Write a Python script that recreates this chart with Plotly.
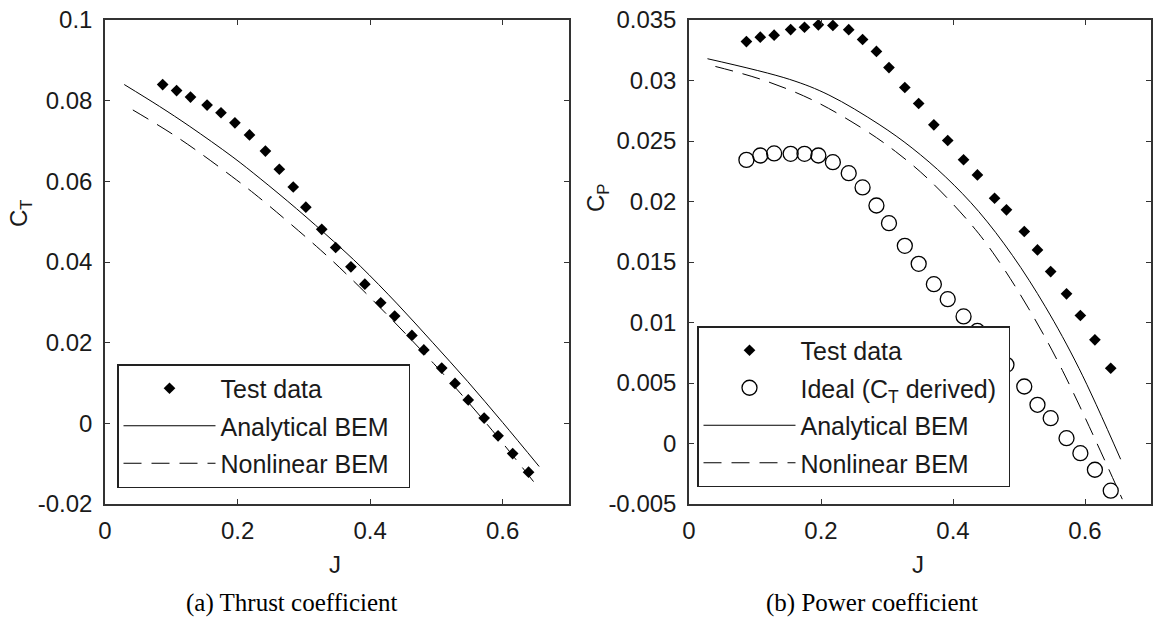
import plotly.graph_objects as go

# ---------------- data ----------------
J_test = [0.087, 0.108, 0.129, 0.154, 0.175, 0.196, 0.218, 0.242, 0.263, 0.284, 0.303, 0.327, 0.348,
          0.371, 0.392, 0.416, 0.437, 0.463, 0.481, 0.508, 0.528, 0.548, 0.572, 0.593, 0.615, 0.639]
CT_test = [0.0840, 0.0825, 0.0809, 0.0789, 0.0770, 0.0745, 0.0715, 0.0675, 0.0630, 0.0586, 0.0536, 0.0481, 0.0436,
           0.0388, 0.0345, 0.0299, 0.0266, 0.0218, 0.0182, 0.0137, 0.0099, 0.0058, 0.0013, -0.0031, -0.0075, -0.0121]
CP_test = [0.03322, 0.03358, 0.03375, 0.03421, 0.0344, 0.0346, 0.03455, 0.0342, 0.03339, 0.0324, 0.03107, 0.02942, 0.0281,
           0.02634, 0.02504, 0.02345, 0.0222, 0.02027, 0.01931, 0.01752, 0.0160, 0.01421, 0.01237, 0.01058, 0.00857, 0.00622]
CP_ideal = [0.02344, 0.0238, 0.02397, 0.02394, 0.02394, 0.0238, 0.02325, 0.02234, 0.02116, 0.01967, 0.01821, 0.01634, 0.01485,
            0.01317, 0.01193, 0.0105, 0.0093, 0.0078, 0.0065, 0.00471, 0.0032, 0.00209, 0.00044, -0.0008, -0.00217, -0.0039]

J_ana_T = [0.029, 0.082, 0.128, 0.193, 0.234, 0.289, 0.345, 0.385, 0.441, 0.494, 0.547, 0.600, 0.655]
CT_ana = [0.0840, 0.0786, 0.0736, 0.0660, 0.0607, 0.0532, 0.0451, 0.0390, 0.0296, 0.0201, 0.0104, 0.0002, -0.0107]
J_non_T = [0.042, 0.113, 0.198, 0.239, 0.325, 0.368, 0.430, 0.496, 0.545, 0.592, 0.655]
CT_non = [0.0777, 0.0705, 0.0604, 0.0551, 0.0430, 0.0364, 0.0262, 0.0148, 0.0058, -0.0033, -0.0162]

J_ana_P = [0.028, 0.152, 0.212, 0.288, 0.338, 0.389, 0.439, 0.490, 0.540, 0.591, 0.654]
CP_ana = [0.0318, 0.0301, 0.0288, 0.02637, 0.02442, 0.02202, 0.01917, 0.01555, 0.0113, 0.0062, -0.0013]
J_non_P = [0.040, 0.111, 0.187, 0.263, 0.313, 0.364, 0.429, 0.465, 0.515, 0.566, 0.6565]
CP_non = [0.03116, 0.03006, 0.02839, 0.02603, 0.02413, 0.02178, 0.01801, 0.01542, 0.01112, 0.00602, -0.0046]

x_tickvals = [0, 0.2, 0.4, 0.6]
x_ticktext = ["0", "0.2", "0.4", "0.6"]
yT_tickvals = [-0.02, 0, 0.02, 0.04, 0.06, 0.08, 0.1]
yT_ticktext = ["-0.02", "0", "0.02", "0.04", "0.06", "0.08", "0.1"]
yP_tickvals = [-0.005, 0, 0.005, 0.01, 0.015, 0.02, 0.025, 0.03, 0.035]
yP_ticktext = ["-0.005", "0", "0.005", "0.01", "0.015", "0.02", "0.025", "0.03", "0.035"]

# ---------------- figure ----------------
W, H = 1154, 620
INK = "#1a1a1a"
SANS = "Liberation Sans, Arial, sans-serif"
SERIF = "Liberation Serif, Times New Roman, serif"
DASH = "18px,10px"
SMOOTH = 1.0
PAD_L = "\u00a0\u00a0"   # small right padding inside the legend boxes
PAD_R = "\u00a0"

fig = go.Figure()

# left panel
fig.add_trace(go.Scatter(x=J_test, y=CT_test, mode="markers", name="Test data",
                         marker=dict(symbol="diamond", size=9, color="black"),
                         xaxis="x", yaxis="y", legend="legend", legendgroup="a1"))
fig.add_trace(go.Scatter(x=J_ana_T, y=CT_ana, mode="lines", name="Analytical BEM" + PAD_L,
                         line=dict(color="black", width=1, shape="spline", smoothing=SMOOTH),
                         xaxis="x", yaxis="y", legend="legend", legendgroup="a2"))
fig.add_trace(go.Scatter(x=J_non_T, y=CT_non, mode="lines", name="Nonlinear BEM",
                         line=dict(color="black", width=1, dash=DASH, shape="spline", smoothing=SMOOTH),
                         xaxis="x", yaxis="y", legend="legend", legendgroup="a3"))

# right panel
fig.add_trace(go.Scatter(x=J_test, y=CP_test, mode="markers", name="Test data",
                         marker=dict(symbol="diamond", size=9, color="black"),
                         xaxis="x2", yaxis="y2", legend="legend2", legendgroup="b1"))
fig.add_trace(go.Scatter(x=J_test, y=CP_ideal, mode="markers", name="Ideal (C<sub>T</sub> derived)" + PAD_R,
                         marker=dict(symbol="circle-open", size=15, color="black", line=dict(width=1.3)),
                         xaxis="x2", yaxis="y2", legend="legend2", legendgroup="b2"))
fig.add_trace(go.Scatter(x=J_ana_P, y=CP_ana, mode="lines", name="Analytical BEM",
                         line=dict(color="black", width=1, shape="spline", smoothing=SMOOTH),
                         xaxis="x2", yaxis="y2", legend="legend2", legendgroup="b3"))
fig.add_trace(go.Scatter(x=J_non_P, y=CP_non, mode="lines", name="Nonlinear BEM",
                         line=dict(color="black", width=1, dash=DASH, shape="spline", smoothing=SMOOTH),
                         xaxis="x2", yaxis="y2", legend="legend2", legendgroup="b4"))

ydom = [1 - 504 / H, 1 - 20 / H]
axis_common = dict(showline=True, linecolor="#333", linewidth=1.5, mirror="ticks",
                   ticks="inside", ticklen=5, tickwidth=1, tickcolor="#333",
                   showgrid=False, zeroline=False, automargin=False,
                   tickfont=dict(family=SANS, size=24, color=INK))

legend_common = dict(xanchor="left", yanchor="top",
                     bgcolor="white", bordercolor="#222", borderwidth=1.5,
                     font=dict(family=SANS, size=25, color=INK), itemwidth=92,
                     tracegroupgap=2)

fig.update_layout(
    width=W, height=H,
    margin=dict(l=0, r=0, t=0, b=0, autoexpand=False),
    paper_bgcolor="white", plot_bgcolor="white",
    showlegend=True,
    xaxis=dict(domain=[105 / W, 569 / W], range=[0, 0.7], tickvals=x_tickvals, ticktext=x_ticktext,
               anchor="y", ticklabelstandoff=4, **axis_common),
    yaxis=dict(domain=ydom, range=[-0.02, 0.1], tickvals=yT_tickvals, ticktext=yT_ticktext,
               anchor="x", ticklabelstandoff=6, **axis_common),
    xaxis2=dict(domain=[689 / W, 1151 / W], range=[0, 0.7], tickvals=x_tickvals, ticktext=x_ticktext,
                anchor="y2", ticklabelstandoff=4, **axis_common),
    yaxis2=dict(domain=ydom, range=[-0.005, 0.035], tickvals=yP_tickvals, ticktext=yP_ticktext,
                anchor="x2", ticklabelstandoff=6, **axis_common),
    legend=dict(x=117 / W, y=1 - 364 / H, **legend_common),
    legend2=dict(x=697 / W, y=1 - 326 / H, **legend_common),
)

annotations = [
    dict(text="C<sub>T</sub>", x=21 / W, y=1 - 213 / H, textangle=-90),
    dict(text="C<sub>P</sub>", x=597 / W, y=1 - 198 / H, textangle=-90),
    dict(text="J", x=335 / W, y=1 - 564 / H),
    dict(text="J", x=918 / W, y=1 - 564 / H),
]
for a in annotations:
    fig.add_annotation(xref="paper", yref="paper", showarrow=False, xanchor="center", yanchor="middle",
                       font=dict(family=SANS, size=24, color=INK), **a)

fig.add_annotation(text="(a) Thrust coefficient", x=292 / W, y=1 - 603 / H, xref="paper", yref="paper",
                   showarrow=False, xanchor="center", yanchor="middle",
                   font=dict(family=SERIF, size=25, color="black"))
fig.add_annotation(text="(b) Power coefficient", x=872 / W, y=1 - 603 / H, xref="paper", yref="paper",
                   showarrow=False, xanchor="center", yanchor="middle",
                   font=dict(family=SERIF, size=25, color="black"))

fig.write_html("out.html")
